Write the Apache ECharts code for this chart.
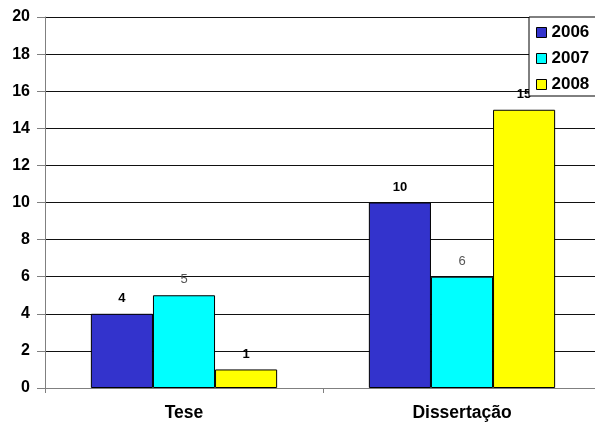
<!DOCTYPE html>
<html>
<head>
<meta charset="utf-8">
<script src="https://cdn.jsdelivr.net/npm/echarts@6/dist/echarts.min.js"></script>
<style>html,body{margin:0;padding:0;background:#fff;overflow:hidden;}#c{width:601px;height:424px;}</style>
</head>
<body>
<div id="c"></div>
<script>
var categories = ['Tese', 'Dissertação'];
var years = ['2006', '2007', '2008'];
var values2006 = [4, 10];
var values2007 = [5, 6];
var values2008 = [1, 15];
var yTicks = [0, 2, 4, 6, 8, 10, 12, 14, 16, 18, 20];

var colors = ['#3333CC', '#00FFFF', '#FFFF00'];
var font = 'Liberation Sans, Arial, sans-serif';

function makeSeries(name, data, color, gray) {
  return {
    name: name,
    type: 'bar',
    data: data,
    barGap: '0%',
    barCategoryGap: '33%',
    itemStyle: { color: color, borderColor: '#000', borderWidth: 1 },
    label: {
      show: true,
      position: 'top',
      distance: 9,
      fontFamily: font,
      fontSize: 13,
      fontWeight: gray ? 'normal' : 'bold',
      color: gray ? '#555' : '#000'
    }
  };
}

var chart = echarts.init(document.getElementById('c'), null, { renderer: 'canvas' });
chart.setOption({
  animation: false,
  backgroundColor: '#fff',
  grid: { left: 45, right: 0, top: 17, bottom: 36, containLabel: false },
  legend: {
    orient: 'vertical',
    left: 529,
    top: 17,
    padding: [7, 30, 3, 7],
    itemGap: 9,
    itemWidth: 10,
    itemHeight: 10,
    itemTextGap: 5,
    icon: 'rect',
    backgroundColor: '#fff',
    borderColor: '#000',
    borderWidth: 1,
    data: years,
    itemStyle: { borderColor: '#000', borderWidth: 1 },
    textStyle: { fontFamily: font, fontSize: 17, fontWeight: 'bold', color: '#000' }
  },
  xAxis: {
    type: 'category',
    data: categories,
    axisLine: { lineStyle: { color: '#808080', width: 1 } },
    axisTick: { show: true, length: 5, lineStyle: { color: '#808080' } },
    axisLabel: { fontFamily: font, fontSize: 17.5, fontWeight: 'bold', color: '#000', margin: 16 }
  },
  yAxis: {
    type: 'value',
    min: yTicks[0],
    max: yTicks[yTicks.length - 1],
    interval: 2,
    axisLine: { show: true, lineStyle: { color: '#808080', width: 1 } },
    axisTick: { show: true, length: 8, lineStyle: { color: '#808080' } },
    axisLabel: { fontFamily: font, fontSize: 16, fontWeight: 'bold', color: '#000', margin: 15 },
    splitLine: { show: true, lineStyle: { color: '#111', width: 1 } }
  },
  series: [
    makeSeries(years[0], values2006, colors[0], false),
    makeSeries(years[1], values2007, colors[1], true),
    makeSeries(years[2], values2008, colors[2], false)
  ]
});
</script>
</body>
</html>
